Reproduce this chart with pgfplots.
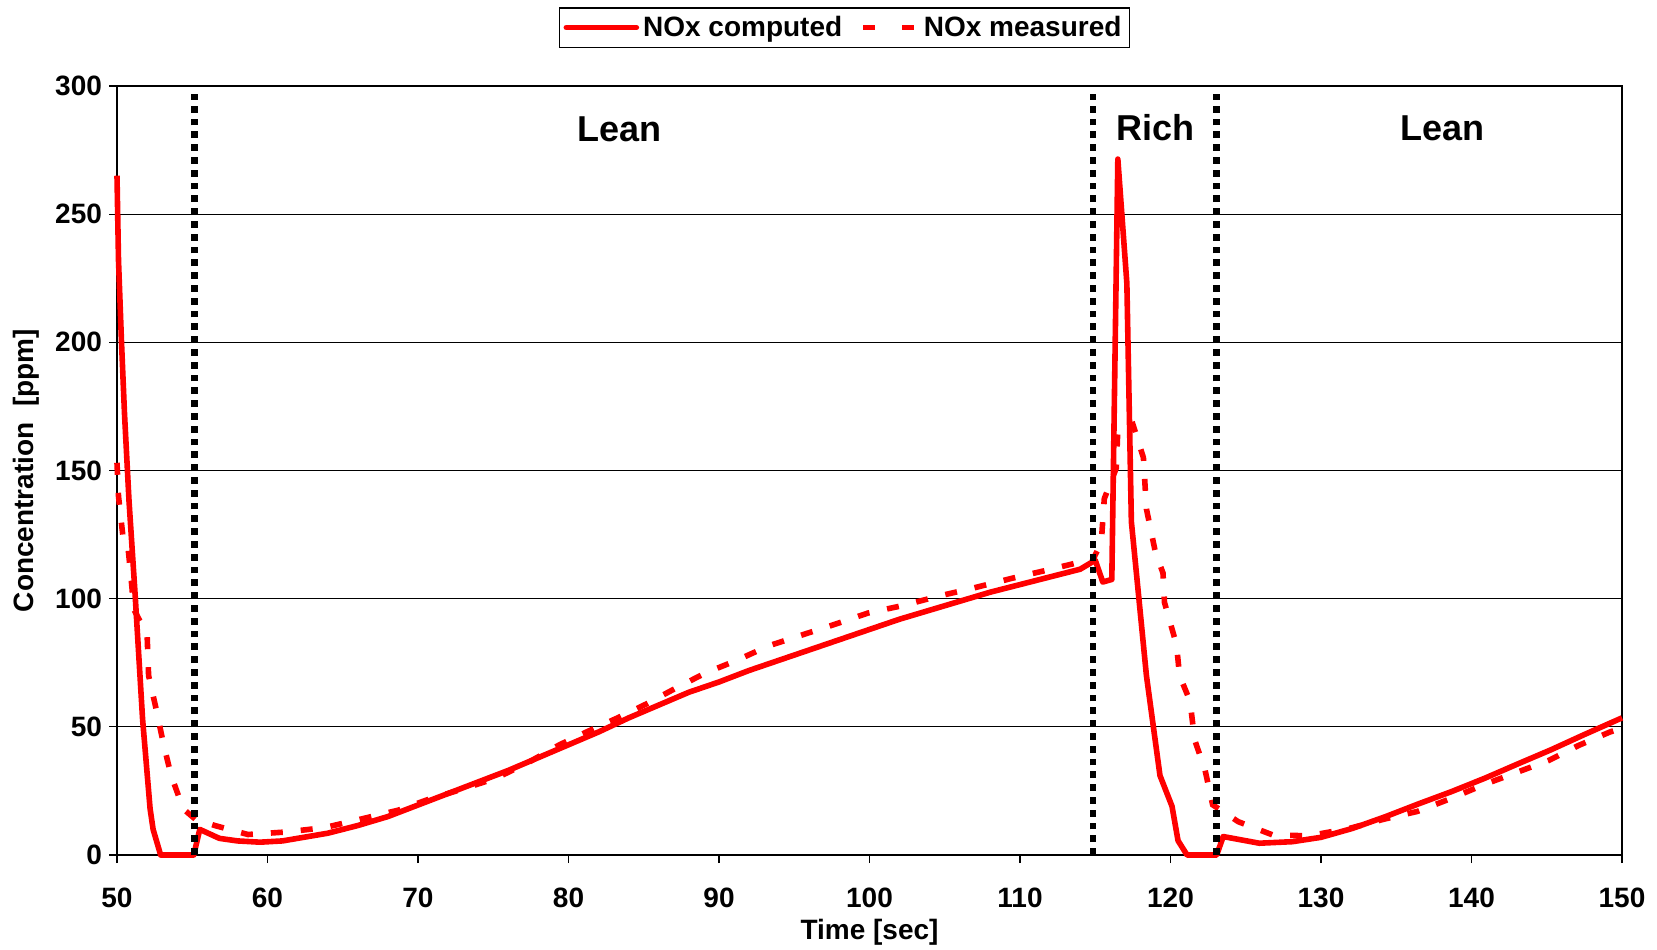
\documentclass[border=0pt]{standalone}
\usepackage{pgfplots}
\pgfplotsset{compat=1.18}
\usepackage{fontspec}
\setmainfont{Liberation Sans}
\definecolor{pred}{RGB}{255,0,0}
\begin{document}
\begin{tikzpicture}
\begin{axis}[
  name=ax,
  scale only axis, width=752.5pt, height=384.5pt,
  xmin=50, xmax=150, ymin=0, ymax=300,
  xtick={50,60,...,150}, ytick={0,50,...,300},
  ymajorgrids, grid style={black, line width=0.5pt},
  tick align=outside, tick pos=left, major tick length=4pt,
  axis line style={black, line width=0.6pt},
  every tick/.style={black, line width=0.6pt},
  /pgf/number format/assume math mode=true,
  ticklabel style={font=\fontsize{14}{16}\selectfont\bfseries},
  xticklabel style={yshift=-9pt},
  xlabel={Time [sec]}, ylabel={Concentration\ \ [ppm]},
  label style={font=\fontsize{14}{16}\selectfont\bfseries},
  xlabel style={at={(axis description cs:0.5,-0.1)}, anchor=center},
  ylabel style={at={(axis description cs:-0.0605,0.5)}, anchor=center},
  legend columns=2,
  legend style={at={(0.4834,1.076)}, anchor=center, draw=black, line width=0.6pt,
    font=\fontsize{14}{16}\selectfont\bfseries, inner sep=2pt,
    /tikz/every even column/.append style={column sep=7pt}},
  clip=false,
]
\addplot[pred, line width=2.8pt, line join=round,
  legend image code/.code={\draw[pred, line width=2.8pt, line cap=round] (0pt,0pt) -- (35pt,0pt);}]
coordinates {
(50.0,265) (50.1,232) (50.3,200) (50.5,172) (50.8,138) (51.2,102) (51.7,53) (52.2,18) (52.4,10) (52.9,0)
(55.1,0) (55.5,10) (56.8,6.5) (58,5.5) (59.5,5) (61,5.5) (62.5,7) (64,8.5) (66,11.5) (68,15)
(70,19.5) (72,24) (74,28.5) (76,33) (78,38) (80,43) (82,48) (84,53.5) (86,58.5) (88,63.5)
(90,67.5) (92,72) (94,76) (96,80) (98,84) (100,88) (102,92) (104,95.5) (106,99) (108,102.5)
(110,105.5) (112,108.5) (114,111.5) (115.0,115) (115.5,106.5) (116.1,107.5) (116.5,271.5)
(117.1,223) (117.4,130) (118.4,70) (119.3,31) (120.1,19) (120.5,5.6) (121.1,0) (123.07,0)
(123.5,7.2) (125.9,4.6) (128.1,5.2) (130,6.9) (132.1,10.4) (134.3,15) (136.5,20) (138.7,24.8)
(140.9,30) (143.1,35.6) (145.3,41.1) (147.5,47) (150,53.5)
};
\addlegendentry{NOx computed}
\addplot[pred, line width=2.8pt, dash pattern=on 6pt off 9pt,
  legend image code/.code={\draw[pred, line width=2.8pt] (0pt,0pt) -- (7.5pt,0pt); \draw[pred, line width=2.8pt] (19.5pt,0pt) -- (27pt,0pt);}]
coordinates {
(50.0,153) (50.1,140) (50.4,124) (50.7,122) (51.0,104) (51.1,96) (52.0,86) (52.1,70) (52.6,57)
(53.1,43) (53.6,31) (54.4,18) (55.2,14) (56.5,11.5) (58.7,8) (61.3,9) (63.8,10.7) (66.2,14)
(68.7,17.5) (70.6,21.5) (73.1,26) (75.2,30) (77.3,36) (79.4,43) (81.2,48) (83.3,53.6) (85.2,59)
(87.1,65) (89.1,71) (91.2,76) (93.3,81.6) (95.6,86) (97.7,90) (99.9,94.4) (102.2,97.3)
(104.6,101) (106.8,104) (109.5,108) (111.7,111) (113.8,114) (114.8,114.6) (115.4,122)
(115.6,139) (116.4,151) (116.5,166.5) (117.5,168) (118.2,155) (118.4,135) (119.0,118)
(119.5,110) (119.6,98.5) (120.4,82) (120.6,70) (121.3,60) (121.6,45) (122.3,33) (122.8,19.6)
(124.5,13) (126.8,7.8) (129.2,7.5) (131.9,10.4) (134.2,14) (136.4,17) (138.7,22.2) (140.8,27.4)
(142.9,32) (145.1,36.8) (147.1,42.7) (149.2,48) (150,49.5)
};
\addlegendentry{NOx measured}
\addplot[black, line width=3.3pt, dash pattern=on 3.4pt off 3pt, forget plot] coordinates {(55.15,0) (55.15,297)};
\addplot[black, line width=3.3pt, dash pattern=on 3.4pt off 3pt, forget plot] coordinates {(114.85,0) (114.85,297)};
\addplot[black, line width=3.3pt, dash pattern=on 3.4pt off 3pt, forget plot] coordinates {(123.05,0) (123.05,297)};
\node[font=\fontsize{18}{20}\selectfont\bfseries] at (axis cs:83.4,283) {Lean};
\node[font=\fontsize{18}{20}\selectfont\bfseries] at (axis cs:119,283.6) {Rich};
\node[font=\fontsize{18}{20}\selectfont\bfseries] at (axis cs:138.1,283.6) {Lean};
\end{axis}
\pgfresetboundingbox
\path[use as bounding box] ([xshift=-58.5pt,yshift=-47pt]ax.south west) rectangle ([xshift=17.5pt,yshift=43pt]ax.north east);
\end{tikzpicture}
\end{document}
